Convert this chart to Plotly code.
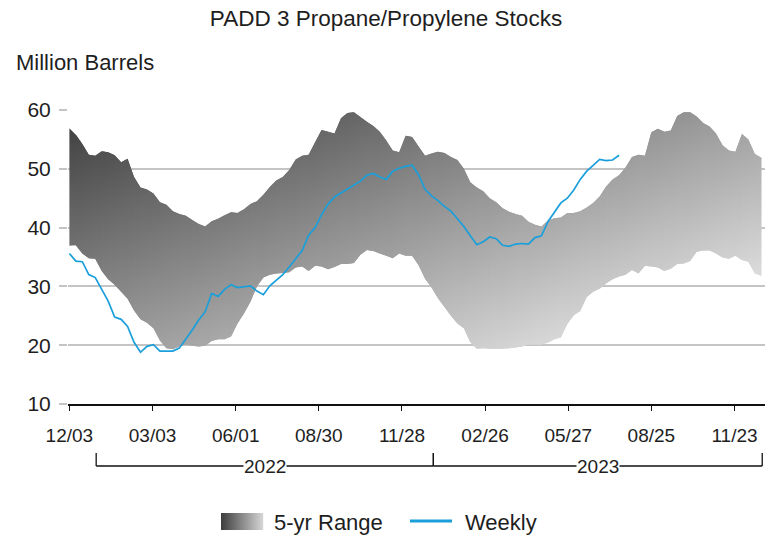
import pandas as pd
import plotly.graph_objects as go

# ---- data (million barrels, weekly, Fridays) ----
week_dates = pd.date_range("2021-12-03", periods=108, freq="7D")

range_high = [56.9, 55.8, 54.2, 52.4, 52.2, 53.0, 52.8, 52.3, 51.1, 51.7,
              48.6, 46.8, 46.5, 45.8, 44.3, 43.9, 42.8, 42.3, 42.0, 41.3,
              40.6, 40.2, 41.1, 41.5, 42.1, 42.6, 42.5, 43.1, 44.0, 44.5,
              45.6, 46.9, 48.0, 48.6, 49.8, 51.6, 52.2, 52.4, 54.5, 56.6,
              56.3, 56.0, 58.6, 59.5, 59.6, 58.8, 58.0, 57.3, 56.3, 54.8,
              53.1, 52.8, 55.6, 55.4, 53.8, 52.2, 52.6, 52.9, 52.7, 52.0,
              51.5, 50.0, 47.7, 46.8, 46.2, 45.0, 44.3, 43.3, 42.7, 42.3,
              42.0, 41.0, 40.5, 40.2, 41.2, 41.6, 41.7, 42.5, 42.5, 42.8,
              43.4, 44.2, 45.3, 47.0, 48.2, 48.9, 50.2, 52.0, 52.4, 52.2,
              56.2, 56.8, 56.3, 56.5, 59.0, 59.6, 59.6, 58.9, 57.8, 57.2,
              56.0, 54.0, 53.1, 52.9, 55.9, 55.0, 52.5, 51.9]

range_low = [36.9, 37.0, 35.6, 34.8, 34.7, 32.6, 31.2, 30.3, 29.1, 27.9,
             25.9, 24.4, 23.8, 22.9, 20.8, 19.5, 19.3, 19.8, 20.1, 19.9,
             19.8, 19.9, 20.7, 21.0, 21.0, 21.5, 23.7, 25.4, 27.4, 30.0,
             31.5, 32.0, 32.2, 32.3, 32.4, 33.2, 33.4, 32.6, 33.5, 33.4,
             32.9, 33.3, 33.8, 33.8, 34.0, 35.4, 36.2, 36.0, 35.6, 35.2,
             34.8, 35.6, 35.2, 35.2, 33.6, 31.3, 29.8, 28.0, 26.5, 25.0,
             23.7, 22.9, 20.5, 19.4, 19.5, 19.4, 19.4, 19.4, 19.5, 19.6,
             19.8, 20.1, 20.1, 20.1, 20.4, 21.0, 21.3, 23.6, 25.1, 25.8,
             28.2, 29.1, 29.6, 30.5, 31.2, 31.7, 32.0, 32.8, 32.2, 33.5,
             33.4, 33.2, 32.6, 33.0, 33.8, 33.9, 34.3, 35.9, 36.1, 36.1,
             35.6, 34.9, 34.7, 35.2, 34.5, 34.2, 32.2, 31.8]

weekly = [35.6, 34.3, 34.2, 32.0, 31.5, 29.5, 27.5, 24.8, 24.4, 23.2,
          20.5, 18.8, 19.8, 20.1, 19.0, 19.0, 19.0, 19.5, 21.0, 22.6,
          24.3, 25.7, 28.8, 28.3, 29.5, 30.3, 29.8, 29.9, 30.1, 29.2,
          28.6, 30.1, 31.0, 32.0, 33.3, 34.6, 36.1, 38.7, 40.0, 42.2,
          44.0, 45.2, 45.9, 46.6, 47.2, 47.9, 48.9, 49.2, 48.6, 48.2,
          49.6, 50.1, 50.4, 50.6, 49.0, 46.5, 45.4, 44.6, 43.6, 42.8,
          41.5, 40.2, 38.6, 37.1, 37.6, 38.4, 38.1, 37.0, 36.8, 37.2,
          37.3, 37.2, 38.3, 38.6, 41.0, 42.5, 44.2, 45.0, 46.4, 48.2,
          49.6, 50.6, 51.6, 51.4, 51.5, 52.3]

x_tick_dates = ["2021-12-03", "2022-03-03", "2022-06-01", "2022-08-30", "2022-11-28",
                "2023-02-26", "2023-05-27", "2023-08-25", "2023-11-23"]
x_tick_labels = ["12/03", "03/03", "06/01", "08/30", "11/28",
                 "02/26", "05/27", "08/25", "11/23"]
y_ticks = [10, 20, 30, 40, 50, 60]

year_labels = ["2022", "2023"]
year_starts = ["2022-01-01", "2023-01-01"]
year_ends = ["2023-01-01", "2023-12-23"]

# ---- styling ----
FONT = "Liberation Sans, Arial, sans-serif"
TEXT = "#1e1e1e"
BLUE = "#1a9fdb"
W, H = 772, 539
ML, MR, MT, MB = 68, 7, 110, 135
PW, PH = W - ML - MR, H - MT - MB


def px_x(px):
    return (px - ML) / PW


def px_y(py):
    return (MT + PH - py) / PH


def gray(g):
    g = int(round(max(0, min(255, g))))
    return f"rgb({g},{g},{g})"


def shade(week_pos, value):
    # diagonal gradient: dark at upper-left, light toward lower-right
    return 59.9 + 0.904 * week_pos + 2.234 * (60 - value)


fig = go.Figure()

# 5-yr range band, drawn as short overlapping slices so the fill
# can carry a diagonal light/dark gradient
n = len(week_dates)
for i in range(n - 1):
    j = min(i + 2, n - 1)
    xs = list(week_dates[i:j + 1]) + list(week_dates[i:j + 1])[::-1]
    ys = list(range_high[i:j + 1]) + list(range_low[i:j + 1])[::-1]
    wc = i + 0.5
    stops = [[k / 6, gray(shade(wc, 10 + 50 * k / 6))] for k in range(7)]
    fig.add_trace(go.Scatter(
        x=xs, y=ys, mode="none", fill="toself",
        fillgradient=dict(type="vertical", start=10, stop=60, colorscale=stops),
        hoverinfo="skip", showlegend=False,
    ))

fig.add_trace(go.Scatter(
    x=week_dates[:len(weekly)], y=weekly, mode="lines",
    line=dict(color=BLUE, width=1.7), showlegend=False, name="Weekly",
))

shapes = []
annotations = []

# year brackets under the date labels
for lab, s, e in zip(year_labels, year_starts, year_ends):
    shapes.append(dict(type="line", xref="x", yref="paper", x0=s, x1=e,
                       y0=px_y(466), y1=px_y(466), line=dict(color="#111", width=1.3)))
    for d in (s, e):
        shapes.append(dict(type="line", xref="x", yref="paper", x0=d, x1=d,
                           y0=px_y(466), y1=px_y(453), line=dict(color="#111", width=1.3)))
    mid = pd.Timestamp(s) + (pd.Timestamp(e) - pd.Timestamp(s)) / 2
    annotations.append(dict(text=lab, xref="x", yref="paper", x=mid, y=px_y(466),
                            showarrow=False, bgcolor="white", borderpad=0,
                            font=dict(family=FONT, size=19, color=TEXT),
                            xanchor="center", yanchor="middle"))

# legend: gradient swatch + blue line
sw_x0, sw_x1, sw_y0, sw_y1 = 221, 263, 513, 530
steps = sw_x1 - sw_x0
for k in range(steps):
    shapes.append(dict(type="rect", xref="paper", yref="paper",
                       x0=px_x(sw_x0 + k), x1=px_x(sw_x0 + k + 1.2),
                       y0=px_y(sw_y1), y1=px_y(sw_y0), line=dict(width=0),
                       fillcolor=gray(62 + 150 * k / (steps - 1))))
annotations.append(dict(text="5-yr Range", xref="paper", yref="paper",
                        x=px_x(272), y=px_y(522), xanchor="left", yanchor="middle",
                        showarrow=False, font=dict(family=FONT, size=22, color=TEXT)))
shapes.append(dict(type="line", xref="paper", yref="paper",
                   x0=px_x(410), x1=px_x(452), y0=px_y(521), y1=px_y(521),
                   line=dict(color=BLUE, width=3)))
annotations.append(dict(text="Weekly", xref="paper", yref="paper",
                        x=px_x(463), y=px_y(522), xanchor="left", yanchor="middle",
                        showarrow=False, font=dict(family=FONT, size=22, color=TEXT)))

# axis title
annotations.append(dict(text="Million Barrels", xref="paper", yref="paper",
                        x=px_x(14), y=px_y(63), xanchor="left", yanchor="middle",
                        showarrow=False, font=dict(family=FONT, size=22, color=TEXT)))

fig.update_layout(
    width=W, height=H,
    margin=dict(l=ML, r=MR, t=MT, b=MB),
    paper_bgcolor="white", plot_bgcolor="white",
    title=dict(text="PADD 3 Propane/Propylene Stocks", x=0.5, xref="container",
               xanchor="center", y=1 - 18 / H, yref="container", yanchor="middle",
               font=dict(family=FONT, size=22.5, color=TEXT)),
    showlegend=False,
    shapes=shapes,
    annotations=annotations,
    xaxis=dict(
        range=["2021-12-01 12:00", "2023-12-26"],
        tickvals=x_tick_dates, ticktext=x_tick_labels,
        ticks="outside", ticklen=5, tickwidth=1.3, tickcolor="#111",
        showline=True, linecolor="#111", linewidth=2,
        showgrid=False, zeroline=False,
        ticklabelstandoff=8,
        tickfont=dict(family=FONT, size=19, color=TEXT),
    ),
    yaxis=dict(
        range=[10, 60], tickvals=y_ticks,
        ticks="outside", ticklen=8, tickwidth=1.5, tickcolor="#c4c4c4",
        showgrid=True, gridcolor="#c4c4c4", gridwidth=1.5,
        showline=False, zeroline=False,
        ticklabelstandoff=4,
        tickfont=dict(family=FONT, size=21, color=TEXT),
    ),
)

fig.write_html("out.html")
